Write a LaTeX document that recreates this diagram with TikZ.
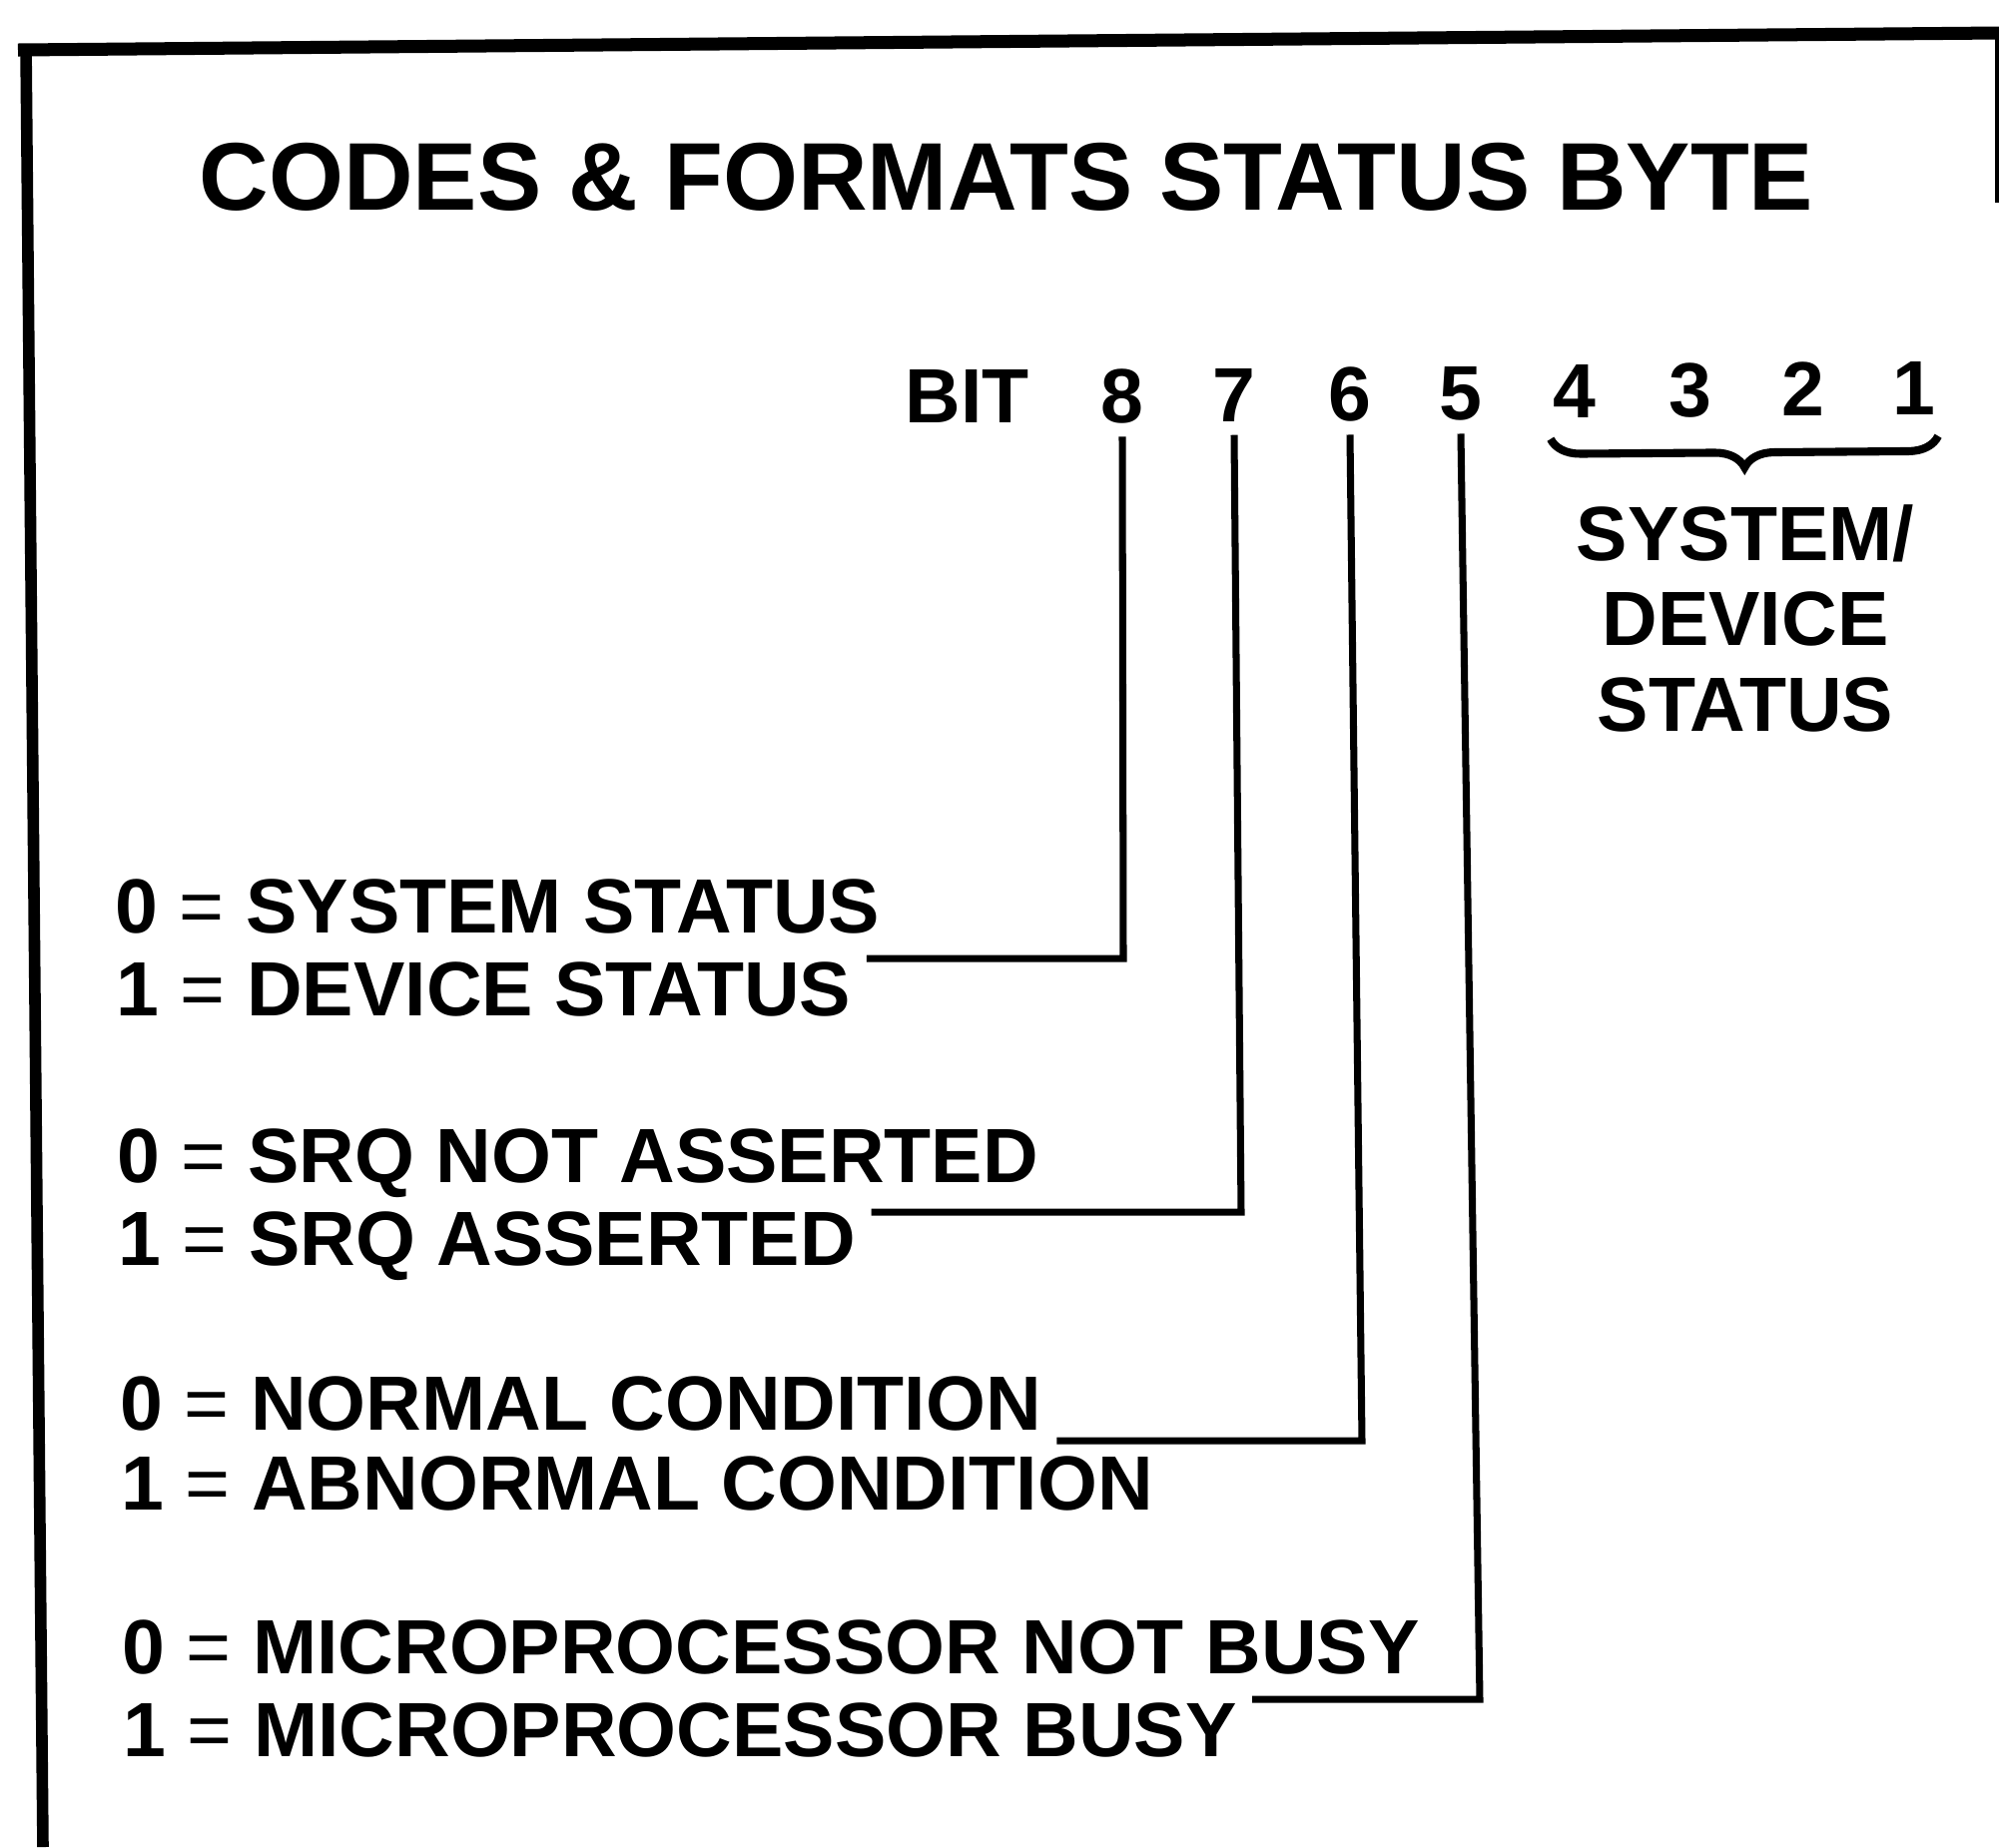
\documentclass[tikz,border=0pt]{standalone}
\usepackage{fontspec}
\setmainfont{Liberation Sans}
\usetikzlibrary{decorations.pathreplacing}
\newcommand{\thineq}{{\mdseries =}}

\begin{document}
\begin{tikzpicture}[x=0.01cm, y=-0.01cm,
  every node/.style={font=\fontsize{21.9}{24.3}\selectfont\bfseries, inner sep=0pt},
  bitnum/.style={anchor=base, inner xsep=0.02cm, inner ysep=0.13cm},
  codetxt/.style={anchor=base west},
  lead/.style={line width=2pt, line join=miter, shorten >=0.15cm},
  curly/.style={line width=2.3pt, decorate, decoration={brace, mirror, amplitude=0.3cm}}]
  \useasboundingbox (0,0) rectangle (2002,1850);
  % frame (top, left and a short bit of the right side)
  \draw[line width=3.7pt] (18,50) -- (2002,33);
  \draw[line width=3.3pt] (26,45) -- (43,1850);
  \draw[line width=0.9pt] (2000,33) -- (2000,203);
  % title
  \node[font=\fontsize{27.4}{30}\selectfont\bfseries, anchor=base] (title) at (1008,210) {CODES \& FORMATS STATUS BYTE};
  % bit numbers
  \node[anchor=base] (bit) at (969,423) {BIT};
  \node[bitnum] (b8) at (1124,423) {8};
  \node[bitnum] (b7) at (1236,422) {7};
  \node[bitnum] (b6) at (1352,421) {6};
  \node[bitnum] (b5) at (1463,420) {5};
  \node[bitnum] (b4) at (1577,418) {4};
  \node[bitnum] (b3) at (1693,417) {3};
  \node[bitnum] (b2) at (1806,416) {2};
  \node[bitnum] (b1) at (1917,415) {1};
  \draw[curly] ([yshift=-0.08cm]b4.south west) -- ([yshift=-0.08cm]b1.south east);
  \node[align=center, anchor=north] (sds) at (1748,505) {SYSTEM/\\DEVICE\\STATUS};
  % meaning of bits 8..5
  \node[codetxt] (z8) at (115,934) {0 \thineq{} SYSTEM STATUS};
  \node[codetxt] (o8) at (116,1017) {1 \thineq{} DEVICE STATUS};
  \node[codetxt] (z7) at (117,1184) {0 \thineq{} SRQ NOT ASSERTED};
  \node[codetxt] (o7) at (118,1267) {1 \thineq{} SRQ ASSERTED};
  \node[codetxt] (z6) at (120,1432) {0 \thineq{} NORMAL CONDITION};
  \node[codetxt] (o6) at (121,1512) {1 \thineq{} ABNORMAL CONDITION};
  \node[codetxt] (z5) at (122,1676) {0 \thineq{} MICROPROCESSOR NOT BUSY};
  \node[codetxt] (o5) at (123,1759) {1 \thineq{} MICROPROCESSOR BUSY};
  % leaders
  \coordinate (c8) at (1125,960);
  \draw[lead] (b8.south) -- (c8) -- (c8 -| o8.east);
  \coordinate (c7) at (1243,1214);
  \draw[lead] (b7.south) -- (c7) -- (c7 -| o7.east);
  \coordinate (c6) at (1364,1443);
  \draw[lead] (b6.south) -- (c6) -- (c6 -| z6.east);
  \coordinate (c5) at (1482,1702);
  \draw[lead] (b5.south) -- (c5) -- (c5 -| o5.east);
\end{tikzpicture}
\end{document}
